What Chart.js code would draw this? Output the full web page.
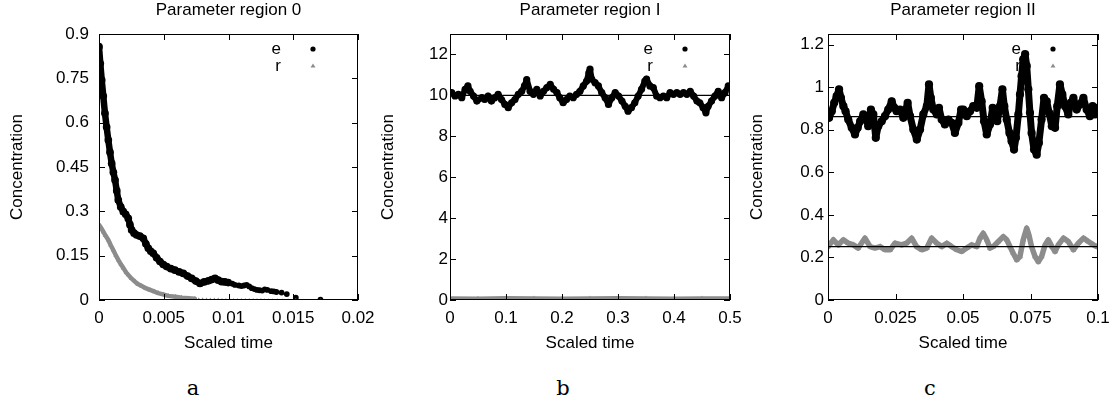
<!DOCTYPE html>
<html>
<head>
<meta charset="utf-8">
<script src="https://cdn.jsdelivr.net/npm/chart.js@4.4.1/dist/chart.umd.min.js"></script>
<style>
    body { margin: 0; background: #fff; width: 1115px; height: 409px; position: relative; overflow: hidden; }
    canvas { position: absolute; top: 0; }
    .sub { position: absolute; top: 376px; width: 40px; margin-left: -20px; text-align: center;
           font-family: "DejaVu Serif", "Liberation Serif", serif; font-size: 21px; color: #000; }
</style>
</head>
<body>
<canvas id="panelA" width="395" height="360" style="left:0px"></canvas>
<canvas id="panelB" width="395" height="360" style="left:370px"></canvas>
<canvas id="panelC" width="375" height="360" style="left:740px"></canvas>
<div class="sub" style="left:193px">a</div>
<div class="sub" style="left:563px">b</div>
<div class="sub" style="left:930px">c</div>
<script>
// names of the two species
const seriesNames = ['e', 'r'];
const panelTitles = ['Parameter region 0', 'Parameter region I', 'Parameter region II'];

// tick labels
const ticksXA = [0, 0.005, 0.01, 0.015, 0.02];
const ticksYA = [0, 0.15, 0.3, 0.45, 0.6, 0.75, 0.9];
const ticksXB = [0, 0.1, 0.2, 0.3, 0.4, 0.5];
const ticksYB = [0, 2, 4, 6, 8, 10, 12];
const ticksXC = [0, 0.025, 0.05, 0.075, 0.1];
const ticksYC = [0, 0.2, 0.4, 0.6, 0.8, 1, 1.2];

// panel a
const timeEA = [0, 0.0001, 0.00021, 0.00033, 0.00046, 0.00059, 0.00072, 0.00085, 0.00098, 0.00111,
    0.00124, 0.00137, 0.00149, 0.00168, 0.00188, 0.00206, 0.00226, 0.00239, 0.00252, 0.00271,
    0.00291, 0.00316, 0.00342, 0.00362, 0.00381, 0.004, 0.00419, 0.00445, 0.00471, 0.00497,
    0.00523, 0.00555, 0.00587, 0.00619, 0.00651, 0.00684, 0.00716, 0.00748, 0.0078, 0.00812,
    0.00844, 0.0087, 0.00896, 0.00921, 0.00947, 0.00972, 0.00998];
const eA = [0.857, 0.80, 0.744, 0.69, 0.632, 0.585, 0.541, 0.50, 0.462, 0.432,
    0.406, 0.37, 0.338, 0.315, 0.299, 0.29, 0.276, 0.255, 0.237, 0.226,
    0.22, 0.216, 0.209, 0.19, 0.175, 0.165, 0.158, 0.143, 0.13, 0.12,
    0.113, 0.106, 0.101, 0.095, 0.09, 0.081, 0.073, 0.064, 0.056, 0.061,
    0.065, 0.069, 0.073, 0.067, 0.062, 0.061, 0.059];
const timeEATail = [0.0103, 0.0105, 0.0108, 0.011, 0.0112, 0.0114, 0.0116, 0.0118, 0.012, 0.0122,
    0.0124, 0.0126, 0.0128, 0.013, 0.0133, 0.0135, 0.0137, 0.0141, 0.0145, 0.0152, 0.0171];
const eATail = [0.055, 0.051, 0.049, 0.047, 0.049, 0.051, 0.046, 0.04, 0.037, 0.034,
    0.033, 0.032, 0.036, 0.034, 0.03, 0.029, 0.027, 0.025, 0.02, 0.008, 0.001];
const timeRA = [0, 0.00015, 0.00033, 0.0005, 0.00072, 0.0009, 0.0011, 0.0013, 0.0015, 0.0017,
    0.0019, 0.0021, 0.00226, 0.0025, 0.00278, 0.003, 0.0033, 0.0036, 0.00394, 0.0043,
    0.00458, 0.005, 0.00535, 0.0059, 0.00638, 0.0069, 0.0074];
const rA = [0.254, 0.245, 0.231, 0.218, 0.203, 0.186, 0.169, 0.151, 0.135, 0.12,
    0.107, 0.093, 0.085, 0.073, 0.062, 0.054, 0.047, 0.04, 0.034, 0.028,
    0.023, 0.018, 0.014, 0.011, 0.008, 0.006, 0.004];
const timeRATail = [0.0077, 0.008, 0.0083, 0.0086, 0.0089, 0.0092, 0.0095, 0.0098, 0.0101, 0.0104,
    0.0107, 0.011, 0.0113, 0.0116, 0.0119, 0.0122, 0.0125, 0.0128, 0.0131, 0.0134,
    0.0138, 0.0142, 0.0146, 0.0152, 0.0171];
const rATail = [0.003, 0.003, 0.002, 0.002, 0.002, 0.002, 0.001, 0.001, 0.001, 0.001,
    0.001, 0.001, 0.001, 0.001, 0.001, 0.001, 0.001, 0, 0, 0,
    0, 0, 0, 0.001, 0];

// panel b
const timeEB = [0, 0.003, 0.009, 0.015, 0.021, 0.027, 0.032, 0.036, 0.042, 0.048,
    0.057, 0.062, 0.068, 0.074, 0.080, 0.086, 0.092, 0.098, 0.104, 0.110,
    0.116, 0.122, 0.128, 0.133, 0.137, 0.143, 0.149, 0.155, 0.161, 0.167,
    0.173, 0.179, 0.185, 0.191, 0.196, 0.202, 0.208, 0.214, 0.220, 0.226,
    0.232, 0.238, 0.244, 0.248, 0.250, 0.253, 0.259, 0.265, 0.271, 0.277,
    0.283, 0.289, 0.295, 0.301, 0.307, 0.313, 0.318, 0.324, 0.330, 0.336,
    0.342, 0.348, 0.351, 0.357, 0.363, 0.369, 0.375, 0.381, 0.387, 0.393,
    0.399, 0.405, 0.411, 0.417, 0.423, 0.429, 0.435, 0.441, 0.446, 0.452,
    0.457, 0.461, 0.467, 0.473, 0.479, 0.485, 0.491, 0.497];
const eB = [10.13, 10.13, 9.97, 10.05, 9.89, 10.3, 10.46, 10.2, 9.97, 9.72,
    9.89, 9.8, 9.97, 9.72, 9.89, 10.05, 9.8, 9.56, 9.4, 9.64,
    9.8, 10.05, 10.2, 10.46, 10.77, 10.2, 10.05, 10.3, 9.97, 10.2,
    10.38, 10.54, 10.3, 10.13, 9.89, 9.64, 9.8, 9.97, 9.89, 10.05,
    10.2, 10.46, 10.7, 11.1, 11.28, 10.8, 10.62, 10.46, 10.13, 9.89,
    9.56, 9.89, 10.13, 9.97, 9.72, 9.47, 9.23, 9.4, 9.64, 9.97,
    10.3, 10.7, 10.8, 10.46, 10.38, 9.97, 9.89, 9.97, 9.89, 10.13,
    10.05, 10.13, 10.05, 10.13, 10.05, 10.2, 9.97, 9.72, 9.64, 9.4,
    9.15, 9.47, 9.72, 9.97, 10.2, 9.89, 10.13, 10.46];
const timeRB = [0, 0.05, 0.1, 0.15, 0.2, 0.25, 0.3, 0.35, 0.4, 0.45, 0.5];
const rB = [0.1, 0.09, 0.11, 0.1, 0.09, 0.1, 0.11, 0.1, 0.09, 0.1, 0.1];
const meanB = [10, 0.1];

// panel c
const timeEC = [0.0004, 0.0014, 0.0023, 0.0032, 0.0041, 0.0048, 0.0057, 0.0065, 0.0075, 0.0088,
    0.0100, 0.0110, 0.0119, 0.0131, 0.0143, 0.0149, 0.0159, 0.0168, 0.0177, 0.0186,
    0.0199, 0.0211, 0.0223, 0.0236, 0.0246, 0.0254, 0.0267, 0.0279, 0.0295, 0.0304,
    0.0316, 0.0329, 0.0341, 0.0353, 0.0366, 0.0374, 0.0381, 0.0390, 0.0403, 0.0411,
    0.0421, 0.0433, 0.0446, 0.0458, 0.0470, 0.0483, 0.0493, 0.0501, 0.0514, 0.0526,
    0.0538, 0.0551, 0.0560, 0.0569, 0.0578, 0.0588, 0.0600, 0.0610, 0.0619, 0.0627,
    0.0637, 0.0646, 0.0653, 0.0662, 0.0672, 0.0680, 0.0689, 0.0696, 0.0705, 0.0711,
    0.0717, 0.0723, 0.0730, 0.0736, 0.0742, 0.0748, 0.0754, 0.0763, 0.0773, 0.0781,
    0.0791, 0.0800, 0.0810, 0.0819, 0.0829, 0.0841, 0.0849, 0.0859, 0.0868, 0.0878,
    0.0890, 0.0899, 0.0909, 0.0921, 0.0933, 0.0946, 0.0958, 0.0970, 0.0980, 0.0989, 0.0997];
const eC = [0.856, 0.887, 0.927, 0.958, 0.99, 0.95, 0.911, 0.887, 0.848, 0.809,
    0.778, 0.809, 0.84, 0.872, 0.848, 0.817, 0.895, 0.872, 0.762, 0.817,
    0.84, 0.864, 0.895, 0.934, 0.903, 0.887, 0.895, 0.856, 0.927, 0.864,
    0.801, 0.754, 0.801, 0.872, 0.911, 1.013, 0.95, 0.895, 0.872, 0.903,
    0.848, 0.825, 0.848, 0.833, 0.785, 0.833, 0.895, 0.895, 0.864, 0.887,
    0.911, 0.903, 1.005, 0.934, 0.84, 0.778, 0.825, 0.903, 0.872, 0.84,
    0.911, 0.99, 0.911, 0.848, 0.785, 0.746, 0.707, 0.762, 0.872, 0.966,
    1.052, 1.131, 1.155, 1.1, 0.99, 0.88, 0.785, 0.707, 0.683, 0.738,
    0.848, 0.95, 0.934, 0.88, 0.817, 0.809, 0.911, 1.013, 0.966, 0.911,
    0.872, 0.927, 0.95, 0.895, 0.919, 0.95, 0.895, 0.864, 0.911, 0.872, 0.903];
const timeRC = [0, 0.002, 0.0038, 0.0057, 0.0075, 0.0094, 0.0112, 0.0137, 0.0156, 0.0174,
    0.0193, 0.0211, 0.023, 0.0248, 0.0273, 0.0291, 0.031, 0.0328, 0.0347, 0.0366,
    0.0384, 0.0403, 0.0421, 0.044, 0.0458, 0.0477, 0.0495, 0.0514, 0.0532, 0.0551,
    0.0563, 0.0575, 0.0588, 0.06, 0.0612, 0.0631, 0.0649, 0.0662, 0.0674, 0.0686,
    0.0699, 0.0711, 0.0723, 0.0736, 0.0744, 0.0754, 0.0767, 0.0779, 0.0791, 0.0804,
    0.0816, 0.0829, 0.0841, 0.0853, 0.0872, 0.089, 0.0909, 0.0927, 0.0946, 0.0964,
    0.0983, 0.0995];
const rC = [0.251, 0.283, 0.259, 0.283, 0.267, 0.259, 0.244, 0.291, 0.251, 0.244,
    0.251, 0.236, 0.236, 0.267, 0.259, 0.267, 0.291, 0.251, 0.236, 0.244,
    0.291, 0.267, 0.251, 0.267, 0.251, 0.236, 0.228, 0.244, 0.259, 0.251,
    0.291, 0.314, 0.283, 0.244, 0.251, 0.275, 0.298, 0.283, 0.251, 0.220,
    0.189, 0.204, 0.283, 0.338, 0.306, 0.251, 0.204, 0.180, 0.204, 0.259,
    0.283, 0.251, 0.228, 0.259, 0.291, 0.275, 0.236, 0.267, 0.291, 0.275,
    0.259, 0.251];
const meanC = [0.862, 0.251];

const FONT = '"Liberation Sans", Arial, sans-serif';
const GREY = 'rgb(140,140,140)';

function pts(xs, ys) {
    return xs.map((x, i) => ({ x: x, y: ys[i] }));
}

function meanLine(xmin, xmax, v) {
    return { data: [{ x: xmin, y: v }, { x: xmax, y: v }], showLine: true, borderColor: '#000',
             borderWidth: 1.2, pointRadius: 0 };
}

function eBand(data, w) {
    return { label: seriesNames[0], data: data, showLine: true, borderColor: '#000', borderWidth: w,
             borderJoinStyle: 'round', borderCapStyle: 'round', pointRadius: w / 2 + 0.6,
             pointBackgroundColor: '#000', pointBorderWidth: 0 };
}

function rBand(data, w) {
    return { label: seriesNames[1], data: data, showLine: true, borderColor: GREY, borderWidth: w,
             borderJoinStyle: 'round', borderCapStyle: 'round', pointStyle: 'triangle', pointRadius: w / 2 + 0.6,
             pointBackgroundColor: GREY, pointBorderWidth: 0 };
}

// gnuplot-like frame, inward ticks on all sides and key in the top right
const gnuplotFrame = {
    id: 'gnuplotFrame',
    afterDatasetsDraw(chart) {
        const { ctx, chartArea: a, scales } = chart;
        ctx.save();
        ctx.strokeStyle = '#000';
        ctx.lineWidth = 1;
        ctx.strokeRect(Math.round(a.left) + 0.5, Math.round(a.top) + 0.5,
                       Math.round(a.width) - 1, Math.round(a.height) - 1);
        ctx.beginPath();
        scales.x.ticks.forEach(t => {
            const px = Math.round(scales.x.getPixelForValue(t.value)) + 0.5;
            ctx.moveTo(px, a.bottom); ctx.lineTo(px, a.bottom - 6);
            ctx.moveTo(px, a.top); ctx.lineTo(px, a.top + 6);
        });
        scales.y.ticks.forEach(t => {
            const py = Math.round(scales.y.getPixelForValue(t.value)) + 0.5;
            ctx.moveTo(a.left, py); ctx.lineTo(a.left + 6, py);
            ctx.moveTo(a.right, py); ctx.lineTo(a.right - 6, py);
        });
        ctx.stroke();

        ctx.font = '17px ' + FONT;
        ctx.fillStyle = '#000';
        ctx.textAlign = 'right';
        ctx.textBaseline = 'middle';
        ctx.fillText(seriesNames[0], a.right - 77, a.top + 15);
        ctx.fillText(seriesNames[1], a.right - 77, a.top + 32);
        ctx.beginPath();
        ctx.arc(a.right - 45, a.top + 15, 2.6, 0, Math.PI * 2);
        ctx.fill();
        ctx.fillStyle = GREY;
        ctx.beginPath();
        ctx.moveTo(a.right - 45, a.top + 29.5);
        ctx.lineTo(a.right - 42.5, a.top + 33.5);
        ctx.lineTo(a.right - 47.5, a.top + 33.5);
        ctx.closePath();
        ctx.fill();
        ctx.restore();
    }
};

function makePanel(id, p) {
    return new Chart(document.getElementById(id), {
        type: 'scatter',
        data: { datasets: p.datasets },
        options: {
            responsive: false,
            animation: false,
            events: [],
            layout: { padding: { left: 0, right: p.padRight, top: 0, bottom: 0 } },
            plugins: {
                legend: { display: false },
                tooltip: { enabled: false },
                title: {
                    display: true,
                    text: p.title,
                    fullSize: false,
                    color: '#000',
                    font: { family: FONT, size: 17, weight: 'normal' },
                    padding: { top: 0, bottom: 13.6 }
                }
            },
            scales: {
                x: {
                    type: 'linear',
                    min: p.ticksX[0],
                    max: p.ticksX[p.ticksX.length - 1],
                    grid: { display: false, drawTicks: false },
                    border: { display: false },
                    ticks: { color: '#000', font: { family: FONT, size: 17 }, padding: 8,
                             maxRotation: 0, autoSkip: false, callback: v => String(v) },
                    title: { display: true, text: 'Scaled time', color: '#000',
                             font: { family: FONT, size: 17 }, padding: { top: 0, bottom: 6.8 } },
                    afterBuildTicks: s => { s.ticks = p.ticksX.map(v => ({ value: v })); },
                    afterFit: s => { s.height = 60; s.paddingLeft = 0; s.paddingRight = 0; }
                },
                y: {
                    type: 'linear',
                    min: 0,
                    max: p.maxY,
                    grid: { display: false, drawTicks: false },
                    border: { display: false },
                    ticks: { color: '#000', font: { family: FONT, size: 17 }, padding: p.tickPad,
                             autoSkip: false, callback: v => String(v) },
                    title: { display: true, text: 'Concentration', color: '#000',
                             font: { family: FONT, size: 17 }, padding: { top: p.titlePad, bottom: 0 } },
                    afterBuildTicks: s => { s.ticks = p.ticksY.map(v => ({ value: v })); },
                    afterFit: s => { s.width = p.axisWidth; s.paddingTop = 0; s.paddingBottom = 0; }
                }
            }
        },
        plugins: [gnuplotFrame]
    });
}

makePanel('panelA', {
    title: panelTitles[0], ticksX: ticksXA, ticksY: ticksYA, maxY: 0.9,
    axisWidth: 99, padRight: 37, tickPad: 10, titlePad: 6.8,
    datasets: [
        Object.assign(rBand(pts(timeRATail, rATail), 4), { showLine: false, pointRadius: 1.8 }),
        rBand(pts(timeRA, rA), 4.5),
        Object.assign(eBand(pts(timeEATail, eATail), 6), { showLine: false, pointRadius: 2.9 }),
        eBand(pts(timeEA, eA), 6.5)
    ]
});

makePanel('panelB', {
    title: panelTitles[1], ticksX: ticksXB, ticksY: ticksYB, maxY: 13,
    axisWidth: 80, padRight: 35, tickPad: 2, titlePad: 7.8,
    datasets: [
        meanLine(0, 0.5, meanB[0]),
        rBand(pts(timeRB, rB), 3.5),
        eBand(pts(timeEB, eB), 6)
    ]
});

makePanel('panelC', {
    title: panelTitles[2], ticksX: ticksXC, ticksY: ticksYC, maxY: 1.25,
    axisWidth: 88, padRight: 17, tickPad: 4, titlePad: 6.8,
    datasets: [
        meanLine(0, 0.1, meanC[0]),
        meanLine(0, 0.1, meanC[1]),
        rBand(pts(timeRC, rC), 5.5),
        eBand(pts(timeEC, eC), 7)
    ]
});
</script>
</body>
</html>
